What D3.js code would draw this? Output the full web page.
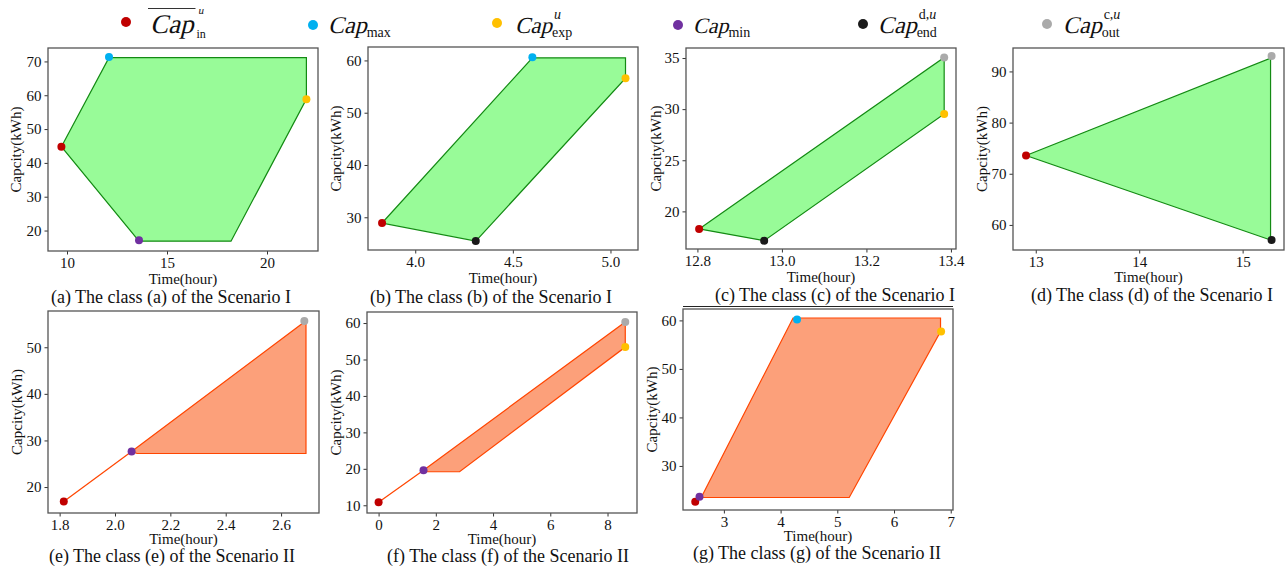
<!DOCTYPE html>
<meta charset="utf-8">
<script src="https://cdn.jsdelivr.net/npm/d3@7"></script>
<style>
  body { margin: 0; background: #fff; }
  text { font-family: "Liberation Serif", "Times New Roman", serif; fill: #111; }
</style>
<body>
<script>

// ---- data ----
var captions = [
  "(a) The class (a) of the Scenario I",
  "(b) The class (b) of the Scenario I",
  "(c) The class (c) of the Scenario I",
  "(d) The class (d) of the Scenario I",
  "(e) The class (e) of the Scenario II",
  "(f) The class (f) of the Scenario II",
  "(g) The class (g) of the Scenario II"
];

var xTicks = [[10, 15, 20], [4.0, 4.5, 5.0], [12.8, 13.0, 13.2, 13.4], [13, 14, 15],
              [1.8, 2.0, 2.2, 2.4, 2.6], [0, 2, 4, 6, 8], [3, 4, 5, 6, 7]];
var yTicks = [[20, 30, 40, 50, 60, 70], [30, 40, 50, 60], [20, 25, 30, 35], [60, 70, 80, 90],
              [20, 30, 40, 50], [10, 20, 30, 40, 50, 60], [30, 40, 50, 60]];

// feasible region outlines [time, capacity]
var regions = [
  [[9.72, 44.8], [12.1, 71.1], [21.97, 71.1], [21.97, 58.85], [18.2, 16.85], [13.6, 16.85]],
  [[3.83, 28.9], [4.6, 60.5], [5.077, 60.5], [5.077, 56.6], [4.31, 25.45]],
  [[12.804, 18.28], [13.384, 35.06], [13.384, 29.52], [12.958, 17.13]],
  [[12.906, 73.56], [15.27, 92.6], [15.27, 57.06]],
  [[2.06, 27.63], [2.69, 55.7], [2.69, 27.2], [2.08, 27.2]],
  [[1.57, 19.63], [8.62, 60.3], [8.62, 53.4], [2.83, 19.2], [1.62, 19.2]],
  [[2.6, 23.5], [4.22, 60.5], [6.82, 60.5], [6.82, 57.7], [5.21, 23.5]]
];

// charging lead-in lines (Scenario II)
var leadIns = [null, null, null, null,
  [[1.815, 16.9], [2.06, 27.63]],
  [[0, 10.8], [1.57, 19.63]],
  [[2.495, 22.63], [2.6, 23.5]]
];

// key points [type, time, capacity]
var points = [
  [["in", 9.72, 44.8], ["max", 12.1, 71.3], ["exp", 21.97, 58.85], ["min", 13.6, 17.1]],
  [["in", 3.83, 28.9], ["max", 4.6, 60.6], ["exp", 5.077, 56.6], ["end", 4.31, 25.45]],
  [["in", 12.804, 18.28], ["out", 13.384, 35.06], ["exp", 13.384, 29.52], ["end", 12.958, 17.13]],
  [["in", 12.906, 73.56], ["out", 15.28, 93.0], ["end", 15.28, 57.06]],
  [["in", 1.815, 16.9], ["min", 2.06, 27.63], ["out", 2.684, 55.65]],
  [["in", 0, 10.8], ["min", 1.57, 19.63], ["out", 8.62, 60.3], ["exp", 8.62, 53.4]],
  [["in", 2.495, 22.63], ["min", 2.57, 23.67], ["max", 4.29, 60.2], ["exp", 6.83, 57.7]]
];

var legendKeys = ["in", "max", "exp", "min", "end", "out"];
var legendSup = ["u", "", "u", "", "d,u", "c,u"];
var legendSub = ["in", "max", "exp", "min", "end", "out"];

// ---- layout / style ----
var colors = {in: "#c00000", max: "#00b0f0", exp: "#ffc000", min: "#7030a0", end: "#1a1a1a", out: "#aaaaaa"};
var frames = [[48, 48, 318, 251], [368, 47, 638, 250], [686, 48, 956, 249], [1013, 48, 1284, 250],
              [48, 311, 319, 513], [367, 312, 637, 513], [683, 309, 953, 510]];
var xDomains = [[9.05, 22.55], [3.758, 5.141], [12.773, 13.412], [12.78, 15.40],
                [1.758, 2.737], [-0.405, 9.03], [2.279, 7.04]];
var yDomains = [[13.95, 73.97], [23.74, 62.57], [16.32, 35.98], [55.1, 94.58],
                [14.43, 57.78], [7.88, 63.03], [20.92, 62.35]];
var xFormats = ["d", ".1f", ".1f", "d", ".1f", "d", "d"];
var yLabelX = [16, 336, 656, 982, 17, 336, 652];
var xLabelY = [284, 283, 282, 282, 544, 544, 541];
var captionPos = [[171, 303], [491, 303], [835, 301], [1152, 301], [172, 562], [508, 562], [817, 559]];
var fillCol = ["#98fb98", "#98fb98", "#98fb98", "#98fb98", "#fca07a", "#fca07a", "#fca07a"];
var lineCol = ["#138a13", "#138a13", "#138a13", "#138a13", "#ff4500", "#ff4500", "#ff4500"];

var svg = d3.select("body").append("svg")
    .attr("width", 1285)
    .attr("height", 568);

captions.forEach(function(cap, i) {
  var f = frames[i];
  var x = d3.scaleLinear().domain(xDomains[i]).range([f[0], f[2]]);
  var y = d3.scaleLinear().domain(yDomains[i]).range([f[3], f[1]]);
  var g = svg.append("g");

  var line = d3.line().x(function(d) { return x(d[0]); }).y(function(d) { return y(d[1]); });

  // region
  g.append("path")
    .datum(regions[i])
    .attr("d", function(d) { return line(d) + "Z"; })
    .attr("fill", fillCol[i])
    .attr("stroke", lineCol[i])
    .attr("stroke-width", 1.2);

  if (leadIns[i]) {
    g.append("path")
      .datum(leadIns[i])
      .attr("d", line)
      .attr("fill", "none")
      .attr("stroke", lineCol[i])
      .attr("stroke-width", 1.2);
  }

  // key points
  g.selectAll(".pt")
    .data(points[i])
    .enter().append("circle")
    .attr("class", "pt")
    .attr("cx", function(d) { return x(d[1]); })
    .attr("cy", function(d) { return y(d[2]); })
    .attr("r", 4)
    .attr("fill", function(d) { return colors[d[0]]; });

  // axes
  var xa = g.append("g")
    .attr("transform", "translate(0," + f[3] + ")")
    .call(d3.axisBottom(x).tickValues(xTicks[i]).tickFormat(d3.format(xFormats[i]))
      .tickSize(3.5).tickPadding(2.5).tickSizeOuter(0));
  var ya = g.append("g")
    .attr("transform", "translate(" + f[0] + ",0)")
    .call(d3.axisLeft(y).tickValues(yTicks[i]).tickFormat(d3.format("d"))
      .tickSize(3.5).tickPadding(3).tickSizeOuter(0));
  [xa, ya].forEach(function(a) {
    a.select(".domain").remove();
    a.selectAll("text").attr("font-size", 15).attr("fill", "#111")
      .attr("font-family", "Liberation Serif, Times New Roman, serif");
    a.selectAll("line").attr("stroke", "#333");
  });

  // frame
  g.append("rect")
    .attr("x", f[0]).attr("y", f[1])
    .attr("width", f[2] - f[0]).attr("height", f[3] - f[1])
    .attr("fill", "none")
    .attr("stroke", "#555")
    .attr("stroke-width", 1.3);

  // labels
  g.append("text")
    .attr("x", (f[0] + f[2]) / 2)
    .attr("y", xLabelY[i])
    .attr("text-anchor", "middle")
    .attr("font-size", 15)
    .text("Time(hour)");

  g.append("text")
    .attr("transform", "translate(" + yLabelX[i] + "," + ((f[1] + f[3]) / 2) + ") rotate(-90)")
    .attr("dy", "0.35em")
    .attr("text-anchor", "middle")
    .attr("font-size", 15)
    .text("Capcity(kWh)");

  g.append("text")
    .attr("x", captionPos[i][0])
    .attr("y", captionPos[i][1])
    .attr("text-anchor", "middle")
    .attr("font-size", 18)
    .text(cap);
});

// rule under caption (c)
svg.append("line")
  .attr("x1", 683).attr("x2", 953)
  .attr("y1", 306.5).attr("y2", 306.5)
  .attr("stroke", "#222").attr("stroke-width", 1);

// ---- legend ----
var legMarkX = [126, 313, 497, 678, 863, 1047];
var legMarkY = [22, 25, 23, 25, 24, 24];
var legTextX = [150, 328, 515, 693, 878, 1063];
var legSize = [27, 24, 23, 22, 24, 24];

var leg = svg.append("g");
legendKeys.forEach(function(k, i) {
  leg.append("circle")
    .attr("cx", legMarkX[i]).attr("cy", legMarkY[i])
    .attr("r", 5)
    .attr("fill", colors[k]);

  // serif italic made by skewing the upright serif face
  var t = leg.append("text")
    .attr("transform", "translate(" + legTextX[i] + ",32.5) skewX(-14)")
    .attr("font-size", legSize[i])
    .text("Cap");
  var w = t.node().getComputedTextLength() + 2;

  if (legendSup[i]) {
    var sup = leg.append("text")
      .attr("x", legTextX[i] + w + (i === 0 ? 3 : 0))
      .attr("y", i === 0 ? 14 : 19)
      .attr("font-size", i === 0 ? 11 : 14);
    legendSup[i].split(",").forEach(function(s, j) {
      if (j > 0) sup.append("tspan").text(",");
      var sp = sup.append("tspan").text(s);
      if (s === "u") sp.attr("font-style", "italic");
    });
  }
  leg.append("text")
    .attr("x", legTextX[i] + w + (i === 0 ? 1 : -2))
    .attr("y", i === 0 ? 37.5 : 36.5)
    .attr("font-size", i === 0 ? 12 : 14)
    .text(legendSub[i]);

  if (i === 0) {
    leg.append("line")
      .attr("x1", legTextX[i] - 2).attr("x2", legTextX[i] + w)
      .attr("y1", 8.5).attr("y2", 8.5)
      .attr("stroke", "#333").attr("stroke-width", 1.2);
  }
});

</script>
</body>
</html>
